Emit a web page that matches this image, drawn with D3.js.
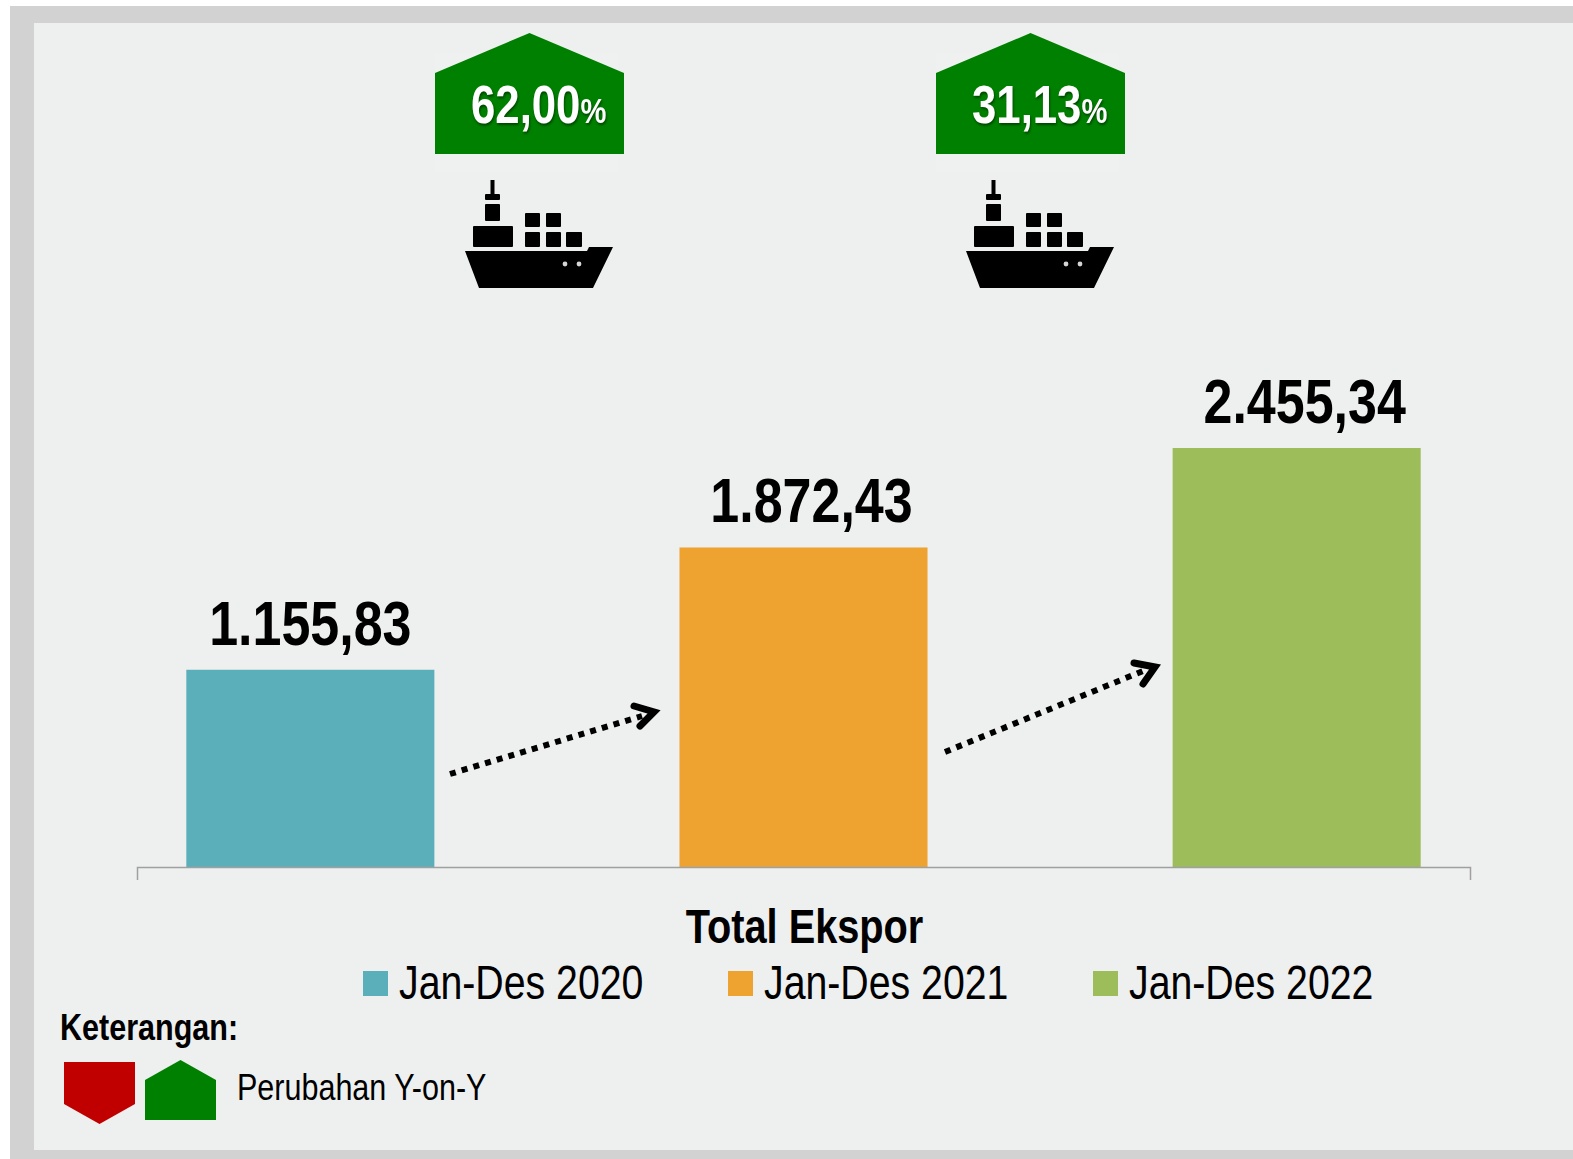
<!DOCTYPE html>
<html>
<head>
<meta charset="utf-8">
<script src="https://cdn.jsdelivr.net/npm/d3@7"></script>
<style>
  html, body { margin: 0; padding: 0; background: #fff; }
  svg { display: block; }
  text { font-family: "Liberation Sans", sans-serif; }
</style>
</head>
<body>
<svg id="chart"></svg>
<script>
const category = ["Total Ekspor"];
const periods = ["Jan-Des 2020", "Jan-Des 2021", "Jan-Des 2022"];
const values = [1155.83, 1872.43, 2455.34];
const valueLabels = ["1.155,83", "1.872,43", "2.455,34"];
const changes = ["62,00", "31,13"];
const colors = ["#5aafbb", "#eea331", "#9dbc5a"];

const width = 1573;
const height = 1159;
const bg = "#eef0ef";
const frame = "#d2d2d2";
const green = "#008000";
const red = "#c00000";
const narrow = 0.825; // no narrow font here, so the text is squeezed

const svg = d3.select("#chart").attr("width", width).attr("height", height);

// blur for the ship icon, the original is a scaled up bitmap
svg.append("defs")
  .append("filter")
  .attr("id", "soft")
  .append("feGaussianBlur")
  .attr("stdDeviation", 0.6);

// grey frame and the panel on top of it
svg.append("rect").attr("x", 10).attr("y", 6).attr("width", width - 10).attr("height", height - 6).attr("fill", frame);
svg.append("rect").attr("x", 34).attr("y", 23).attr("width", width - 34).attr("height", 1127).attr("fill", bg);

const x0 = d3.scaleBand().domain(category).range([137, 1470]);
const x = d3.scaleBand().domain(periods).range(x0.range()).paddingInner(0.497).paddingOuter(0.1);
const y = d3.scaleLinear().domain([0, d3.max(values)]).range([867, 448]);

// bars
svg.append("g")
  .selectAll("rect")
  .data(values)
  .enter()
  .append("rect")
  .attr("x", (d, i) => x(periods[i]))
  .attr("y", (d) => y(d))
  .attr("width", x.bandwidth())
  .attr("height", (d) => y(0) - y(d))
  .attr("fill", (d, i) => colors[i]);

// value labels, the last two sit a bit right of the bar centre in the original
const labelShift = [0, 8, 8];
svg.append("g")
  .selectAll("text")
  .data(values)
  .enter()
  .append("text")
  .text((d, i) => valueLabels[i])
  .attr("transform", (d, i) => `translate(${x(periods[i]) + x.bandwidth() / 2 + labelShift[i]},${y(d) - 25}) scale(${narrow},1)`)
  .attr("text-anchor", "middle")
  .attr("font-size", 63)
  .attr("font-weight", "bold")
  .attr("fill", "#000");

// axis, only the domain line with its outer ticks and the category label
const axis = svg.append("g")
  .attr("transform", `translate(0,${y(0)})`)
  .call(d3.axisBottom(x0).tickSizeInner(0).tickSizeOuter(13).tickPadding(0));
axis.select(".domain").attr("stroke", "#a0a0a0").attr("stroke-width", 1.5);
axis.selectAll("text")
  .attr("font-family", null)
  .attr("font-size", 48)
  .attr("font-weight", "bold")
  .attr("fill", "#000")
  .attr("dy", null)
  .attr("y", null)
  .attr("transform", "translate(1,76) scale(0.828,1)");

// legend
const legendX = [363, 728, 1093];
const legend = svg.append("g")
  .selectAll("g")
  .data(periods)
  .enter()
  .append("g")
  .attr("transform", (d, i) => `translate(${legendX[i]},971)`);
legend.append("rect").attr("width", 25).attr("height", 25).attr("fill", (d, i) => colors[i]);
legend.append("text")
  .text((d) => d)
  .attr("transform", "translate(36,28) scale(0.818,1)")
  .attr("font-size", 48)
  .attr("fill", "#000");

// house shape, width w and height h, shoulder is where the roof ends
function house(w, h, shoulder) {
  return `M0,${h}V${shoulder}L${w / 2},0L${w},${shoulder}V${h}Z`;
}

// change badges with the ship under them
const badgeX = [435, 936];
const badge = svg.append("g")
  .selectAll("g")
  .data(changes)
  .enter()
  .append("g")
  .attr("transform", (d, i) => `translate(${badgeX[i]},33)`);

badge.append("rect").attr("x", 0).attr("y", 20).attr("width", 183).attr("height", 119).attr("fill", "#eff1f0");
badge.append("path").attr("d", house(189, 121, 40)).attr("fill", green);

const badgeText = badge.append("text")
  .attr("transform", "translate(36,90) scale(0.81,1)")
  .attr("fill", "#fff")
  .attr("font-weight", "bold")
  .attr("font-size", 54)
  .style("filter", "drop-shadow(1px 2px 1px rgba(0,0,0,0.45))");
badgeText.append("tspan").text((d) => d);
badgeText.append("tspan").text("%").attr("font-size", 36);

// ship icon, local coordinates are relative to the badge corner
const ship = badge.append("g").attr("transform", "translate(30,147)").attr("filter", "url(#soft)");
ship.append("rect").attr("x", 25.5).attr("y", 0).attr("width", 4).attr("height", 14);
const shipRects = [
  [20, 14, 15, 6], [20, 24, 15, 17], [8, 46, 40, 21],
  [60, 33, 15, 14], [81, 33, 15, 14], [60, 52, 15, 15], [81, 52, 15, 15], [101, 52, 16, 15]
];
ship.selectAll("rect.box")
  .data(shipRects)
  .enter()
  .append("rect")
  .attr("class", "box")
  .attr("x", (d) => d[0])
  .attr("y", (d) => d[1])
  .attr("width", (d) => d[2])
  .attr("height", (d) => d[3])
  .attr("rx", 1);
ship.append("path").attr("d", "M0,71H122L124,67H148L128,108H14Z").attr("fill", "#000");
ship.selectAll("circle")
  .data([100, 114])
  .enter()
  .append("circle")
  .attr("cx", (d) => d)
  .attr("cy", 84)
  .attr("r", 2.4)
  .attr("fill", "#d5d5d5");

// dotted arrows between the bars
const arrows = [
  { x1: 450, y1: 774, x2: 642, y2: 716, tip: [654, 712], a: [634, 706], b: [640, 726] },
  { x1: 945, y1: 752, x2: 1143, y2: 671, tip: [1155, 667], a: [1134, 663], b: [1143, 684] }
];
const arrow = svg.append("g").selectAll("g").data(arrows).enter().append("g");
arrow.append("line")
  .attr("x1", (d) => d.x1).attr("y1", (d) => d.y1)
  .attr("x2", (d) => d.x2).attr("y2", (d) => d.y2)
  .attr("stroke", "#000")
  .attr("stroke-width", 6)
  .attr("stroke-dasharray", "6 6.2");
arrow.append("path")
  .attr("d", (d) => `M${d.a}L${d.tip}L${d.b}`)
  .attr("fill", "none")
  .attr("stroke", "#000")
  .attr("stroke-width", 7)
  .attr("stroke-linecap", "round");

// note at the bottom
svg.append("text")
  .text("Keterangan:")
  .attr("transform", `translate(60,1040) scale(${narrow},1)`)
  .attr("font-size", 37)
  .attr("font-weight", "bold")
  .attr("fill", "#000");
svg.append("path")
  .attr("d", house(71, 62, 20))
  .attr("transform", "translate(64,1124) scale(1,-1)")
  .attr("fill", red);
svg.append("path")
  .attr("d", house(71, 60, 20))
  .attr("transform", "translate(145,1060)")
  .attr("fill", green);
svg.append("text")
  .text("Perubahan Y-on-Y")
  .attr("transform", `translate(237,1100) scale(${narrow},1)`)
  .attr("font-size", 37)
  .attr("fill", "#000");
</script>
</body>
</html>
